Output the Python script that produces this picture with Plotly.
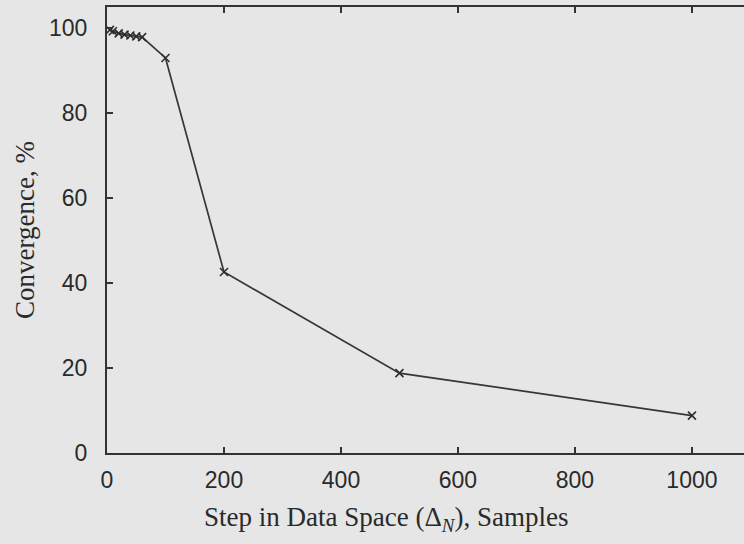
import plotly.graph_objects as go

# Convergence as a function of the step size in data space
step_samples = [5, 10, 20, 30, 40, 50, 60, 100, 200, 500, 1000]
convergence_pct = [99.6, 99.3, 98.8, 98.5, 98.3, 98.1, 97.9, 93.0, 42.6, 18.8, 8.8]

x_ticks = [0, 200, 400, 600, 800, 1000]
y_ticks = [0, 20, 40, 60, 80, 100]

ink = "#333333"
paper = "#e6e6e6"

fig = go.Figure()
fig.add_trace(go.Scatter(
    x=step_samples,
    y=convergence_pct,
    mode="lines+markers",
    line=dict(color="#363636", width=1.7),
    marker=dict(symbol="x-thin", size=8, line=dict(color="#2e2e2e", width=1.6)),
    showlegend=False,
))

axis_common = dict(
    showgrid=False,
    zeroline=False,
    showline=True,
    linecolor=ink,
    linewidth=2,
    ticks="inside",
    ticklen=6,
    tickwidth=2,
    tickcolor=ink,
    tickfont=dict(family="Liberation Sans, Arial, sans-serif", size=23, color="#2a2a2a"),
)

fig.update_xaxes(
    range=[0, 1089],
    tickvals=x_ticks,
    ticktext=[str(v) for v in x_ticks],
    mirror="ticks",
    ticklabelstandoff=5,
    **axis_common,
)
fig.update_yaxes(
    range=[0, 105],
    tickvals=y_ticks,
    ticktext=[str(v) for v in y_ticks],
    mirror=False,
    ticklabelstandoff=13,
    **axis_common,
)

title_font = dict(family="Liberation Serif, Times New Roman, serif", size=27, color="#2a2a2a")
fig.add_annotation(
    text="Step in Data Space (Δ<sub><i>N</i></sub>), Samples",
    xref="paper", yref="paper", x=(386 - 107) / (744 - 107), y=-(519 - 453) / (453 - 6.5),
    showarrow=False, xanchor="center", yanchor="middle", font=title_font,
)
fig.add_annotation(
    text="Convergence, %",
    xref="paper", yref="paper", x=-(107 - 25) / (744 - 107), y=0.5,
    textangle=-90, showarrow=False, xanchor="center", yanchor="middle", font=title_font,
)

fig.update_layout(
    width=744,
    height=544,
    margin=dict(l=107, r=0, t=6.5, b=91),
    paper_bgcolor=paper,
    plot_bgcolor=paper,
)

fig.write_html("out.html")
